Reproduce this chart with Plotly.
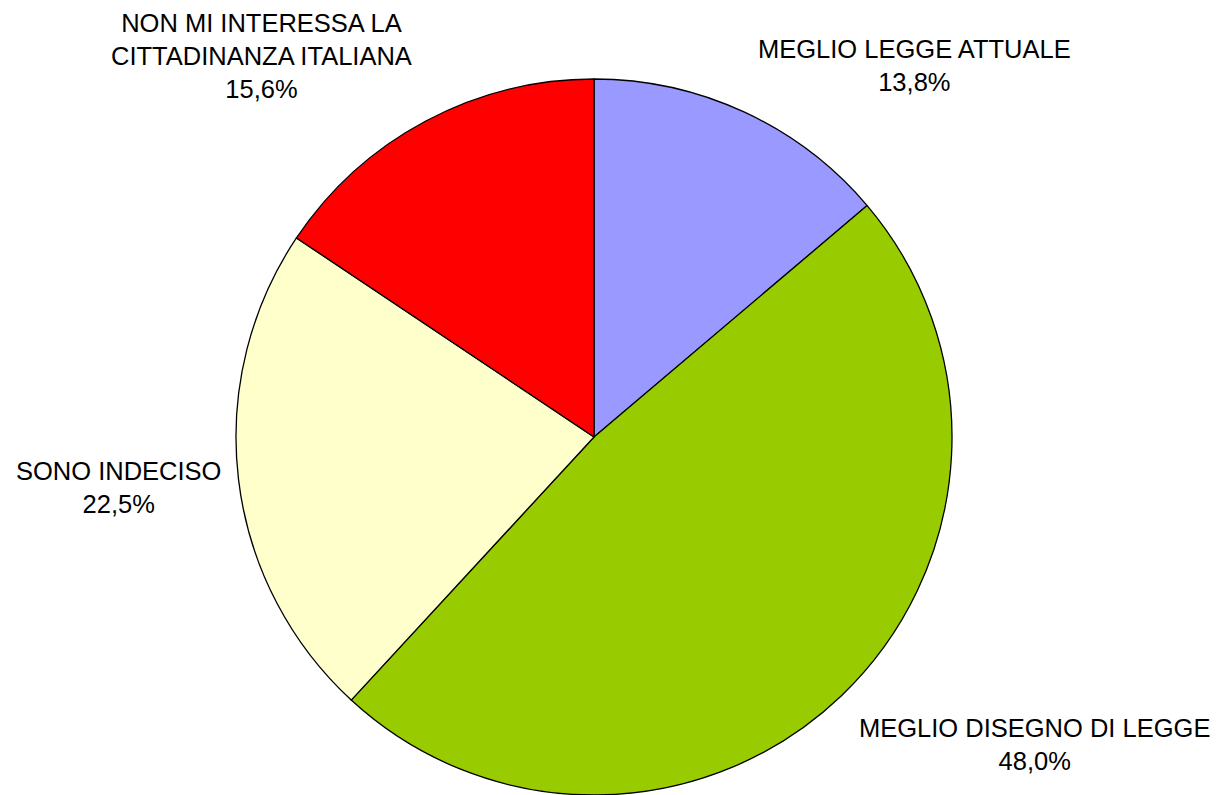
import plotly.graph_objects as go

categories = ["MEGLIO LEGGE ATTUALE", "MEGLIO DISEGNO DI LEGGE", "SONO INDECISO",
              "NON MI INTERESSA LA<br>CITTADINANZA ITALIANA"]
values = [13.8, 48.0, 22.5, 15.6]
colors = ["#9999FF", "#99CC00", "#FFFFCC", "#FF0000"]

# label anchor positions in paper coordinates (x, y)
label_pos = [(0.751, 0.917), (0.849, 0.064), (0.097, 0.387), (0.215, 0.930)]

W, H = 1218, 795

fig = go.Figure(go.Pie(
    labels=categories,
    values=values,
    sort=False,
    direction="clockwise",
    rotation=0,
    marker=dict(colors=colors, line=dict(color="black", width=1.3)),
    textinfo="none",
    hoverinfo="label+percent",
    domain=dict(x=[236 / W, 952 / W], y=[0, 716 / H]),
    showlegend=False,
))

for name, v, (px, py) in zip(categories, values, label_pos):
    fig.add_annotation(
        x=px, y=py, xref="paper", yref="paper",
        text=f"{name}<br>{v:.1f}%".replace(".", ","),
        showarrow=False, align="center",
        font=dict(family="Liberation Sans, Arial", size=25.5, color="black"),
        xanchor="center", yanchor="middle",
    )

fig.update_layout(
    width=W, height=H,
    margin=dict(l=0, r=0, t=0, b=0),
    paper_bgcolor="white", plot_bgcolor="white",
)

fig.write_html("out.html")
